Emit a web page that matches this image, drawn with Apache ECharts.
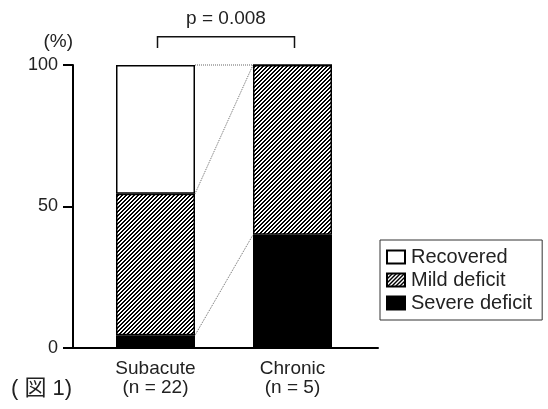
<!DOCTYPE html>
<html>
<head>
<meta charset="utf-8">
<script src="https://cdn.jsdelivr.net/npm/echarts@6/dist/echarts.min.js"></script>
<style>
  html, body { margin: 0; padding: 0; background: #fff; }
  #chart { width: 548px; height: 409px; }
</style>
</head>
<body>
<div id="chart"></div>
<script>
// 数据
const categories = ['Subacute\n(n = 22)', 'Chronic\n(n = 5)'];
const severe = [4.5, 40];     // Severe deficit (%)
const mild = [50, 60];        // Mild deficit (%)
const recovered = [45.5, 0];  // Recovered (%)
const yTicks = [0, 50, 100];
const pText = 'p = 0.008';

const FONT = '"Liberation Sans", Arial, sans-serif';
const TXT = '#222';
const BAR_W = 79;

// 斜线填充（像素级，避免发灰）
const hatch = document.createElement('canvas');
hatch.width = 4;
hatch.height = 4;
const hctx = hatch.getContext('2d');
hctx.fillStyle = '#fff';
hctx.fillRect(0, 0, 4, 4);
hctx.fillStyle = '#000';
for (let x = 0; x < 4; x++) {
  for (let y = 0; y < 4; y++) {
    if ((x + y) % 4 < 2) hctx.fillRect(x, y, 1, 1);
  }
}

// 连接线的端点（累计百分比）
const levels = [
  [0, severe[0], severe[1]],
  [0, severe[0] + mild[0], severe[1] + mild[1]],
  [0, severe[0] + mild[0] + recovered[0], severe[1] + mild[1] + recovered[1]]
];

const chart = echarts.init(document.getElementById('chart'));

const option = {
  animation: false,
  textStyle: { fontFamily: FONT },
  title: {
    text: '( 図 1)',
    left: 11,
    top: 378,
    padding: 0,
    textStyle: { fontSize: 22, fontWeight: 'normal', color: TXT, fontFamily: '"Liberation Sans", "Noto Sans CJK JP", sans-serif' }
  },
  legend: {
    data: ['Recovered', 'Mild deficit', 'Severe deficit'],
    orient: 'vertical',
    left: 380,
    top: 240,
    padding: [7, 10, 7, 6],
    itemGap: 3,
    itemWidth: 18,
    itemHeight: 13,
    icon: 'rect',
    borderColor: '#333',
    borderWidth: 1,
    backgroundColor: '#fff',
    selectedMode: false,
    textStyle: { fontSize: 20, color: TXT, lineHeight: 20, padding: [0, 0, 0, 1] }
  },
  grid: [
    { left: 73, right: 170, top: 65, bottom: 61 },   // 坐标轴
    { left: 87, right: 187, top: 65, bottom: 61 }    // 柱子
  ],
  xAxis: [
    {
      type: 'category', gridIndex: 0, data: ['', ''],
      axisLine: { lineStyle: { color: '#000', width: 2 } },
      axisTick: { show: false },
      axisLabel: { show: false }
    },
    {
      type: 'category', gridIndex: 1, data: categories,
      axisLine: { show: false },
      axisTick: { show: false },
      axisLabel: { fontSize: 19, lineHeight: 19, color: TXT, margin: 11 }
    }
  ],
  yAxis: [
    {
      type: 'value', gridIndex: 0, min: yTicks[0], max: yTicks[yTicks.length - 1], interval: 50,
      name: '(%)',
      nameLocation: 'end',
      nameGap: 14,
      nameTextStyle: { fontSize: 19, color: TXT, align: 'right' },
      axisLine: { show: true, lineStyle: { color: '#000', width: 2 } },
      axisTick: { show: true, inside: false, length: 10, lineStyle: { color: '#000', width: 2 } },
      axisLabel: { fontSize: 18, color: TXT, margin: 15 },
      splitLine: { show: false }
    },
    {
      type: 'value', gridIndex: 1, min: 0, max: 100, show: false
    }
  ],
  series: [
    {
      name: 'Severe deficit', type: 'bar', stack: 'a', xAxisIndex: 1, yAxisIndex: 1,
      barWidth: BAR_W, data: severe,
      itemStyle: { color: '#000', borderColor: '#000', borderWidth: 1.5 }
    },
    {
      name: 'Mild deficit', type: 'bar', stack: 'a', xAxisIndex: 1, yAxisIndex: 1,
      barWidth: BAR_W, data: mild,
      itemStyle: { color: { image: hatch, repeat: 'repeat' }, borderColor: '#000', borderWidth: 1.5 }
    },
    {
      name: 'Recovered', type: 'bar', stack: 'a', xAxisIndex: 1, yAxisIndex: 1,
      barWidth: BAR_W, data: recovered,
      itemStyle: { color: '#fff', borderColor: '#000', borderWidth: 1.5 }
    },
    {
      // 虚线连接
      type: 'custom', xAxisIndex: 1, yAxisIndex: 1, silent: true, z: 1,
      encode: { x: 0, y: 1 },
      data: levels,
      renderItem: (params, api) => {
        const p0 = api.coord([0, api.value(1)]);
        const p1 = api.coord([1, api.value(2)]);
        return {
          type: 'line',
          shape: { x1: p0[0] + BAR_W / 2, y1: p0[1], x2: p1[0] - BAR_W / 2, y2: p1[1] },
          style: { stroke: '#666', lineWidth: 1, lineDash: [1, 1] }
        };
      }
    },
    {
      // p 值括号
      type: 'custom', xAxisIndex: 1, yAxisIndex: 1, silent: true, clip: false,
      encode: { x: 0, y: 1 },
      data: [[0, 100]],
      renderItem: (params, api) => {
        const a = api.coord([0, 110]);
        const b = api.coord([1, 110]);
        const drop = api.coord([0, 106])[1];
        const t = api.coord([0, 116.5])[1];
        const x0 = a[0] + 2, x1 = b[0] + 2;
        return {
          type: 'group',
          children: [
            {
              type: 'polyline',
              shape: { points: [[x0, drop], [x0, a[1]], [x1, a[1]], [x1, drop]] },
              style: { stroke: '#111', lineWidth: 1.5, fill: null }
            },
            {
              type: 'text',
              style: {
                text: pText, x: (x0 + x1) / 2, y: t,
                align: 'center', verticalAlign: 'middle',
                fontSize: 19, fontFamily: FONT, fill: TXT
              }
            }
          ]
        };
      }
    }
  ]
};

chart.setOption(option);
</script>
</body>
</html>
